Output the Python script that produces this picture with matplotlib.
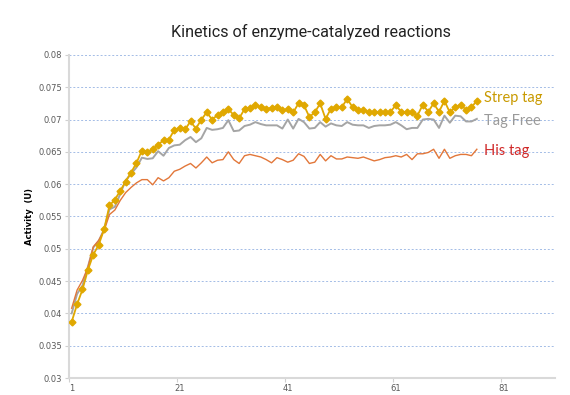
import numpy as np
import matplotlib
matplotlib.use("Agg")
import matplotlib.pyplot as plt
from matplotlib.ticker import FixedLocator, FormatStrFormatter

# ---- data ----
strep_tag = [
    0.0387, 0.0414, 0.0437, 0.0467, 0.0491, 0.0506, 0.0530, 0.0567, 0.0576, 0.0590,
    0.0604, 0.0618, 0.0633, 0.0652, 0.0649, 0.0654, 0.0661, 0.0668, 0.0669, 0.0684,
    0.0687, 0.0685, 0.0697, 0.0686, 0.0700, 0.0711, 0.0700, 0.0707, 0.0711, 0.0716,
    0.0707, 0.0702, 0.0716, 0.0718, 0.0722, 0.0719, 0.0716, 0.0718, 0.0720, 0.0714,
    0.0716, 0.0711, 0.0725, 0.0722, 0.0704, 0.0711, 0.0725, 0.0701, 0.0717, 0.0719,
    0.0719, 0.0732, 0.0719, 0.0714, 0.0714, 0.0712, 0.0711, 0.0711, 0.0711, 0.0712,
    0.0722, 0.0712, 0.0711, 0.0711, 0.0706, 0.0723, 0.0712, 0.0725, 0.0712, 0.0729,
    0.0711, 0.0719, 0.0723, 0.0715, 0.0719, 0.0729,
]
tag_free = [
    0.0400, 0.0430, 0.0443, 0.0472, 0.0502, 0.0512, 0.0530, 0.0561, 0.0565, 0.0585,
    0.0606, 0.0616, 0.0626, 0.0641, 0.0639, 0.0640, 0.0651, 0.0644, 0.0656, 0.0660,
    0.0661, 0.0668, 0.0673, 0.0665, 0.0671, 0.0687, 0.0684, 0.0685, 0.0687, 0.0699,
    0.0682, 0.0683, 0.0690, 0.0692, 0.0696, 0.0693, 0.0691, 0.0691, 0.0691, 0.0686,
    0.0700, 0.0686, 0.0701, 0.0696, 0.0686, 0.0687, 0.0696, 0.0689, 0.0694, 0.0691,
    0.0690, 0.0696, 0.0692, 0.0691, 0.0691, 0.0687, 0.0690, 0.0691, 0.0691, 0.0692,
    0.0696, 0.0691, 0.0685, 0.0687, 0.0687, 0.0700, 0.0701, 0.0700, 0.0687, 0.0706,
    0.0695, 0.0706, 0.0705, 0.0697, 0.0697, 0.0701,
]
his_tag = [
    0.0408, 0.0436, 0.0451, 0.0471, 0.0503, 0.0513, 0.0528, 0.0553, 0.0560, 0.0575,
    0.0587, 0.0595, 0.0602, 0.0607, 0.0607, 0.0599, 0.0610, 0.0605, 0.0610, 0.0620,
    0.0623, 0.0628, 0.0632, 0.0625, 0.0633, 0.0642, 0.0633, 0.0637, 0.0638, 0.0650,
    0.0638, 0.0632, 0.0644, 0.0646, 0.0644, 0.0642, 0.0638, 0.0633, 0.0641, 0.0638,
    0.0634, 0.0637, 0.0647, 0.0643, 0.0632, 0.0634, 0.0646, 0.0636, 0.0644, 0.0639,
    0.0639, 0.0642, 0.0641, 0.0640, 0.0642, 0.0639, 0.0636, 0.0638, 0.0641, 0.0642,
    0.0644, 0.0642, 0.0646, 0.0638, 0.0647, 0.0647, 0.0649, 0.0654, 0.0640, 0.0654,
    0.0640, 0.0644, 0.0646, 0.0646, 0.0644, 0.0654,
]
x_labels = [1, 21, 41, 61, 81]
y_ticks = [0.03, 0.035, 0.04, 0.045, 0.05, 0.055, 0.06, 0.065, 0.07, 0.075, 0.08]

STREP_C = "#E0A800"
FREE_C = "#A5A5A5"
HIS_C = "#E2773A"

x = np.arange(1, len(strep_tag) + 1)

fig = plt.figure(figsize=(5.7, 3.95), dpi=100)
ax = fig.add_axes([0.121, 0.043, 0.853, 0.818])

ax.plot(x, tag_free, color=FREE_C, lw=1.4, zorder=3)
ax.plot(x, his_tag, color=HIS_C, lw=1.0, zorder=3)
ax.plot(x, strep_tag, color=STREP_C, lw=1.3, marker="D", ms=3.5,
        markerfacecolor=STREP_C, markeredgecolor=STREP_C, zorder=4)

ax.set_xlim(0.5, 90.5)
ax.set_ylim(0.03, 0.08)

# y axis
ax.set_yticks(y_ticks)
ax.yaxis.set_major_formatter(FormatStrFormatter("%g"))
ax.tick_params(axis="y", length=3, width=0.8, color="#D0D0D0", pad=2,
               labelsize=6, labelcolor="#595959")
ax.grid(axis="y", color="#A3BCE6", lw=0.7, ls=(0, (2, 2)))
ax.set_axisbelow(True)

# x axis: labels on categories, tick marks between them
ax.set_xticks(x_labels)
ax.xaxis.set_minor_locator(FixedLocator([t - 0.5 for t in x_labels]))
ax.tick_params(axis="x", which="major", length=0, pad=4, labelsize=6, labelcolor="#595959")
ax.tick_params(axis="x", which="minor", length=3, width=0.8, color="#D0D0D0")

for side in ("top", "right"):
    ax.spines[side].set_visible(False)
for side in ("left", "bottom"):
    ax.spines[side].set_color("#D9D9D9")
    ax.spines[side].set_linewidth(1.5)

ax.set_ylabel("Activity  (U)", fontsize=6, fontweight="bold", labelpad=3)

# series labels at the line ends
lab_font = dict(fontsize=10.5, family="Lato", va="center", ha="left")
fig.text(484 / 570, 1 - 98 / 395, "Strep tag", color="#C99A00", **lab_font)
fig.text(484 / 570, 1 - 121.5 / 395, "Tag Free", color="#9A9A9A", **lab_font)
fig.text(484 / 570, 1 - 150.5 / 395, "His tag", color="#D02828", **lab_font)

fig.text(311 / 570, 1 - 32 / 395, "Kinetics of enzyme-catalyzed reactions",
         fontsize=11.6, family="Roboto", ha="center", va="center", color="#222222")

fig.savefig("out.png", dpi=100)
